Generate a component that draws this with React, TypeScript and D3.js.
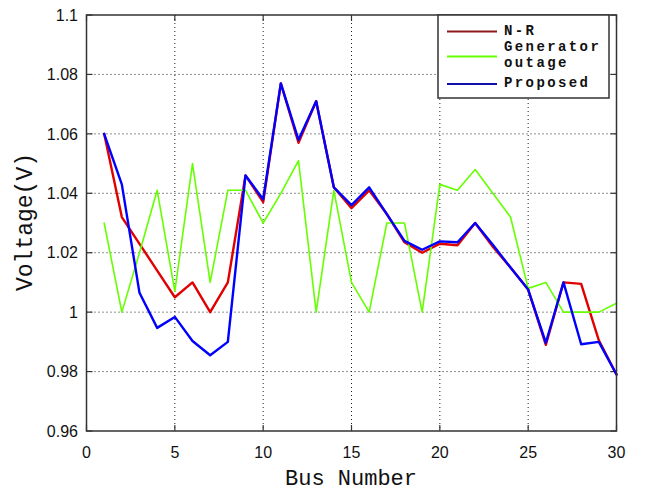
import React from "react";
import * as d3 from "d3";

// Bus indices (IEEE 30-bus system)
const buses = [
  1, 2, 3, 4, 5, 6, 7, 8, 9, 10, 11, 12, 13, 14, 15, 16, 17, 18, 19, 20, 21,
  22, 23, 24, 25, 26, 27, 28, 29, 30,
];

// Bus voltage magnitudes (p.u.) from the three studies
const newtonRaphson = [
  1.06, 1.032, 1.023, 1.014, 1.005, 1.01, 1.0, 1.01, 1.046, 1.037, 1.077, 1.057,
  1.071, 1.042, 1.035, 1.041, 1.033, 1.0235, 1.02, 1.023, 1.0225, 1.03, 1.022,
  1.015, 1.0076, 0.989, 1.01, 1.0095, 0.9905, 0.979,
];
const generatorOutage = [
  1.03, 1.0, 1.02, 1.041, 1.007, 1.05, 1.01, 1.041, 1.041, 1.03, 1.04, 1.051,
  1.0, 1.041, 1.01, 1.0, 1.03, 1.03, 1.0, 1.043, 1.041, 1.048, 1.04, 1.032,
  1.008, 1.01, 1.0, 1.0, 1.0, 1.003,
];
const proposed = [
  1.06, 1.043, 1.0065, 0.9947, 0.9984, 0.9903, 0.9855, 0.99, 1.046, 1.038, 1.077,
  1.058, 1.071, 1.042, 1.036, 1.042, 1.033, 1.024, 1.021, 1.0238, 1.0235, 1.03,
  1.0227, 1.015, 1.0076, 0.9897, 1.01, 0.9892, 0.99, 0.979,
];

const xTicks = [0, 5, 10, 15, 20, 25, 30];
const yTicks = [0.96, 0.98, 1.0, 1.02, 1.04, 1.06, 1.08, 1.1];

const seriesNames = ["N-R", "Generator outage", "Proposed"];

const W = 648;
const H = 494;
const plot = { left: 86.5, right: 616.5, top: 15, bottom: 431 };

const x = d3.scaleLinear().domain([0, 30]).range([plot.left, plot.right]);
const y = d3.scaleLinear().domain([0.96, 1.1]).range([plot.bottom, plot.top]);

const lineGen = d3
  .line<[number, number]>()
  .x((d) => x(d[0]))
  .y((d) => y(d[1]));

const pathOf = (vals: number[]) =>
  lineGen(buses.map((b, i) => [b, vals[i]] as [number, number])) ?? "";

const series = [
  { name: seriesNames[0], values: newtonRaphson, color: "#e00000", legend: "#8b1a1a", width: 2.4 },
  { name: seriesNames[1], values: generatorOutage, color: "#66ff00", legend: "#66ff00", width: 1.6 },
  { name: seriesNames[2], values: proposed, color: "#0000ff", legend: "#1010a8", width: 2.4 },
];

const fmt = (v: number) => String(+v.toFixed(2));

export default function App() {
  const tickLen = 6;
  const axisColor = "#333";
  const legend = { x0: 438, y0: 15, x1: 609, y1: 98 };
  return (
    <svg
      width={W}
      height={H}
      style={{ position: "absolute", left: 0, top: 0, background: "#fff" }}
    >
      <rect x={0} y={0} width={W} height={H} fill="#fff" />
      {/* grid */}
      <g stroke="#222" strokeWidth={1} strokeDasharray="1,3">
        {xTicks.slice(1, -1).map((t) => (
          <line key={"gx" + t} x1={x(t)} x2={x(t)} y1={plot.top} y2={plot.bottom} />
        ))}
        {yTicks.slice(1, -1).map((t) => (
          <line key={"gy" + t} x1={plot.left} x2={plot.right} y1={y(t)} y2={y(t)} />
        ))}
      </g>
      {/* ticks on all four sides */}
      <g stroke={axisColor} strokeWidth={1.2}>
        {xTicks.map((t) => (
          <g key={"tx" + t}>
            <line x1={x(t)} x2={x(t)} y1={plot.bottom} y2={plot.bottom - tickLen} />
            <line x1={x(t)} x2={x(t)} y1={plot.top} y2={plot.top + tickLen} />
          </g>
        ))}
        {yTicks.map((t) => (
          <g key={"ty" + t}>
            <line x1={plot.left} x2={plot.left + tickLen} y1={y(t)} y2={y(t)} />
            <line x1={plot.right} x2={plot.right - tickLen} y1={y(t)} y2={y(t)} />
          </g>
        ))}
      </g>
      {/* series */}
      <g fill="none" strokeLinejoin="round" strokeLinecap="round">
        {series.map((s) => (
          <path key={s.name} d={pathOf(s.values)} stroke={s.color} strokeWidth={s.width} />
        ))}
      </g>
      {/* axes box */}
      <rect
        x={plot.left}
        y={plot.top}
        width={plot.right - plot.left}
        height={plot.bottom - plot.top}
        fill="none"
        stroke={axisColor}
        strokeWidth={1.5}
      />
      {/* tick labels */}
      <g fontFamily="'Liberation Sans', Arial, sans-serif" fontSize={16} fill="#111">
        {xTicks.map((t) => (
          <text key={"lx" + t} x={x(t)} y={458} textAnchor="middle">
            {fmt(t)}
          </text>
        ))}
        {yTicks.map((t) => (
          <text key={"ly" + t} x={78} y={y(t)} dy="0.36em" textAnchor="end">
            {fmt(t)}
          </text>
        ))}
      </g>
      {/* axis titles */}
      <text
        x={351}
        y={485}
        textAnchor="middle"
        fontFamily="'Liberation Mono', monospace"
        fontSize={22}
        fill="#111"
      >
        Bus Number
      </text>
      <text
        transform={`translate(32, 222) rotate(-90)`}
        textAnchor="middle"
        fontFamily="'Liberation Mono', monospace"
        fontSize={23}
        fill="#111"
      >
        Voltage(V)
      </text>
      {/* legend */}
      <g>
        <rect
          x={legend.x0}
          y={legend.y0}
          width={legend.x1 - legend.x0}
          height={legend.y1 - legend.y0}
          fill="#fff"
          stroke={axisColor}
          strokeWidth={1.5}
        />
        {[
          { s: series[0], ly: 31.5 },
          { s: series[1], ly: 56.5 },
          { s: series[2], ly: 84 },
        ].map(({ s, ly }) => (
          <line key={"lg" + s.name} x1={447} x2={497} y1={ly} y2={ly} stroke={s.legend} strokeWidth={2} />
        ))}
        <g
          fontFamily="'Liberation Mono', monospace"
          fontSize={14}
          fontWeight="bold"
          letterSpacing={2.4}
          fill="#111"
        >
          <text x={504} y={35}>N-R</text>
          <text x={504} y={51}>Generator</text>
          <text x={504} y={67}>outage</text>
          <text x={504} y={87}>Proposed</text>
        </g>
      </g>
    </svg>
  );
}
